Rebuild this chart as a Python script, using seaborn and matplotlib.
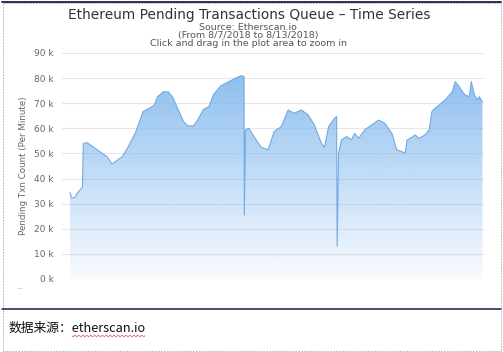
import numpy as np
import pandas as pd
import matplotlib
matplotlib.use("Agg")
import matplotlib.pyplot as plt
import seaborn as sns
from matplotlib.lines import Line2D
from matplotlib.patches import Rectangle, Polygon

# ---- data (hours since 8/7/2018 00:00, pending txn count) ----
hours = [0, 0.7, 1.8, 2.5, 3.9, 4.4, 4.7, 6.0, 8.1, 10.5, 13.0, 14.7, 16.2, 18.3, 20.4,
         22.8, 25.6, 28.1, 29.5, 30.6, 32.7, 34.4, 35.8, 37.6, 39.7, 41.1, 43.2, 44.6,
         46.7, 48.5, 50.2, 52.7, 55.5, 57.9, 59.7, 60.8, 60.9, 61.3, 62.5, 64.3, 66.7,
         69.2, 71.3, 73.8, 76.2, 78.3, 80.8, 83.2, 85.3, 87.8, 88.9, 90.3, 92.4, 93.1,
         93.3, 93.8, 94.8, 96.6, 98.3, 99.4, 100.8, 102.9, 105.4, 107.8, 109.9, 112.4,
         114.1, 115.9, 117.0, 117.7, 119.4, 120.5, 121.9, 124.0, 125.4, 126.4, 127.5,
         128.9, 131.0, 133.5, 134.5, 135.9, 137.0, 138.0, 139.4, 140.1, 141.2, 142.2,
         142.9, 144.0]
pending = [34.4, 32.3, 32.5, 34.0, 36.0, 36.5, 54.0, 54.3, 52.6, 50.7, 48.7, 45.8, 47.0,
           48.7, 52.7, 58.0, 66.7, 68.2, 69.3, 72.6, 74.6, 74.5, 72.6, 68.0, 62.7, 61.0,
           61.0, 63.3, 67.6, 68.6, 73.6, 76.9, 78.6, 80.0, 81.0, 80.6, 25.5, 59.4, 60.0,
           56.7, 52.5, 51.4, 58.7, 60.7, 67.3, 66.0, 67.3, 65.3, 61.4, 54.0, 52.5, 60.7,
           64.0, 64.7, 13.1, 50.0, 55.4, 56.7, 55.4, 58.0, 56.0, 59.4, 61.4, 63.3, 62.0,
           58.0, 51.4, 50.7, 50.0, 55.4, 56.4, 57.4, 56.0, 57.4, 59.4, 66.7, 68.0, 69.3,
           71.3, 74.6, 78.6, 76.6, 74.6, 73.3, 72.6, 78.6, 73.3, 71.3, 72.6, 70.6]
pending = [v * 1000 for v in pending]
yticks = [0, 10000, 20000, 30000, 40000, 50000, 60000, 70000, 80000, 90000]
ytick_labels = ["0 k", "10 k", "20 k", "30 k", "40 k", "50 k", "60 k", "70 k", "80 k", "90 k"]

start = pd.Timestamp("2018-08-07")
df = pd.DataFrame({"time": [start + pd.Timedelta(hours=h) for h in hours],
                   "pending": pending})

sns.set_theme(style="white")
plt.rcParams["font.family"] = ["DejaVu Sans", "Noto Sans CJK SC"]

W, H = 503, 352
fig = plt.figure(figsize=(W / 100, H / 100), dpi=100)
ax = fig.add_axes([62 / W, (H - 279) / H, (484 - 62) / W, (279 - 53) / H])

line_color = "#7cb5ec"
sns.lineplot(data=df, x="time", y="pending", ax=ax, color="#72aae4", linewidth=0.8)

# gradient fill under the curve
xnum = matplotlib.dates.date2num(df["time"])
x_min, x_max = xnum.min(), xnum.max()
pad = (x_max - x_min) * 0.02
ax.set_xlim(x_min - pad * 0.95, x_max + pad * 0.19)
ax.set_ylim(0, 90000)

grad = np.zeros((256, 1, 4))
rgb = matplotlib.colors.to_rgb(line_color)
grad[:, 0, :3] = rgb
grad[:, 0, 3] = np.linspace(0.95, 0.05, 256)
im = ax.imshow(grad, aspect="auto", extent=[x_min, x_max, 0, 90000], origin="upper", zorder=1)
poly = Polygon(np.column_stack([np.r_[xnum[0], xnum, xnum[-1]],
                                np.r_[0, df["pending"].values, 0]]),
               closed=True, facecolor="none", edgecolor="none")
ax.add_patch(poly)
im.set_clip_path(poly)

ax.set_yticks(yticks)
ax.set_yticklabels(ytick_labels, color="#666666", fontsize=6.5)
ax.set_xticks([])
ax.grid(axis="y", color="#e6e6e6", linewidth=0.8)
ax.set_axisbelow(True)
for s in ax.spines.values():
    s.set_visible(False)
ax.tick_params(axis="y", length=0, pad=6)
ax.set_xlabel("")
ax.set_ylabel("Pending Txn Count (Per Minute)", color="#666666", fontsize=6.3, labelpad=4)

# titles
fig.text(249 / W, 1 - 15 / H, "Ethereum Pending Transactions Queue – Time Series",
         ha="center", va="center", fontsize=9.9, color="#333333")
fig.text(248 / W, 1 - 27 / H, "Source: Etherscan.io", ha="center", va="center",
         fontsize=6.8, color="#555555")
fig.text(248 / W, 1 - 35.5 / H, "(From 8/7/2018 to 8/13/2018)", ha="center", va="center",
         fontsize=6.8, color="#555555")
fig.text(248 / W, 1 - 44 / H, "Click and drag in the plot area to zoom in", ha="center",
         va="center", fontsize=6.8, color="#555555")
fig.text(20 / W, 1 - 287 / H, "...", ha="center", va="center", fontsize=5, color="#999999")

# frame and separator
fig.add_artist(Rectangle((2.5 / W, 1.5 / H), (W - 5) / W, (H - 4) / H, transform=fig.transFigure,
                         fill=False, edgecolor="#bbbbbb", linestyle=(0, (2, 1)), linewidth=0.7))
fig.add_artist(Line2D([2 / W, (W - 2) / W], [1 - 1.5 / H, 1 - 1.5 / H], transform=fig.transFigure,
                      color="#1a1a4a", linewidth=1.3))
fig.add_artist(Line2D([2 / W, (W - 2) / W], [1 - 309 / H, 1 - 309 / H], transform=fig.transFigure,
                      color="#1a1a4a", linewidth=1.1))

# caption
fig.text(9 / W, 1 - 328 / H, "数据来源：etherscan.io", ha="left", va="center",
         fontsize=9.2, color="#111111", family=["Noto Sans CJK SC", "DejaVu Sans"])
wx = np.linspace(72, 145, 120)
wy = 336 + 0.9 * np.sin((wx - 72) * 1.6)
fig.add_artist(Line2D(wx / W, 1 - wy / H, transform=fig.transFigure, color="#e05050", linewidth=0.5))

fig.savefig("out.png", dpi=100)
